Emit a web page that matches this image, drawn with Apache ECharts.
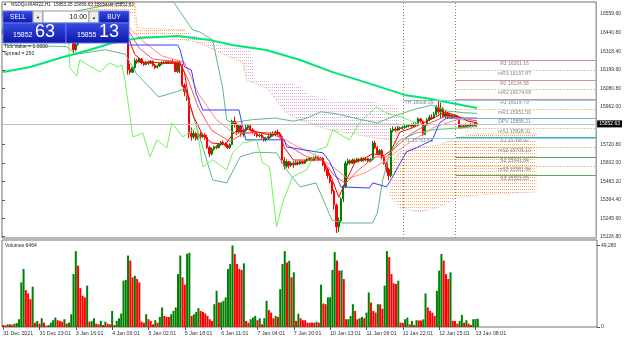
<!DOCTYPE html>
<html><head><meta charset="utf-8">
<script src="https://cdn.jsdelivr.net/npm/echarts/dist/echarts.min.js"></script>
<style>html,body{margin:0;padding:0;background:#fff}#c{width:624px;height:341px}</style>
</head><body><div id="c"></div>
<script>
// ---------- DATA ----------
const symbolTitle = 'NSDQo-MAR22,H1  15853.25 15856.63 15834.00 15852.63';
const dateLabels = ['31 Dec 2021','31 Dec 23:01','3 Jan 16:01','4 Jan 09:01','5 Jan 02:01','5 Jan 18:01','6 Jan 11:01','7 Jan 04:01','7 Jan 20:01','10 Jan 13:01','11 Jan 06:01','11 Jan 22:01','12 Jan 15:01','13 Jan 08:01'];
const dateStep = 16;
const priceTicks = [16559.6,16440.8,16318.4,16199.6,16080.8,15962.0,15720.8,15602.0,15483.2,15364.4,15245.6,15126.8];
const volTicks = [0,49280];
const lastPrice = 15852.63;
// candles: [open, close, low, high]
const ohlc = [
[16440,16455,16430,16462],[16455,16448,16440,16465],[16448,16460,16442,16470],[16460,16452,16445,16468],[16452,16465,16448,16475],
[16465,16470,16455,16482],[16470,16458,16450,16478],[16458,16440,16432,16462],[16440,16415,16405,16445],[16415,16430,16400,16440],
[16430,16395,16385,16445],[16395,16410,16388,16420],[16410,16400,16392,16418],[16400,16420,16395,16428],[16420,16408,16400,16425],
[16408,16415,16402,16420],[16415,16418,16410,16422],[16418,16425,16412,16430],[16425,16438,16420,16442],[16438,16445,16432,16450],
[16445,16452,16440,16458],[16452,16460,16448,16465],[16460,16458,16452,16466],[16458,16470,16455,16475],[16470,16475,16465,16480],
[16475,16468,16460,16480],[16468,16480,16465,16485],[16480,16472,16465,16486],[16472,16478,16468,16484],[16478,16440,16435,16482],
[16440,16395,16380,16445],[16395,16330,16296,16400],[16330,16365,16320,16372],[16365,16410,16355,16415],[16410,16440,16400,16448],
[16440,16470,16430,16478],[16470,16490,16460,16500],[16490,16505,16480,16512],[16505,16520,16495,16530],[16520,16512,16500,16528],
[16512,16530,16505,16540],[16530,16525,16515,16545],[16525,16540,16518,16550],[16540,16535,16525,16548],[16535,16545,16530,16555],
[16545,16538,16530,16552],[16538,16548,16532,16556],[16548,16540,16532,16555],[16540,16552,16535,16560],[16552,16545,16538,16562],
[16545,16530,16522,16552],[16530,16520,16510,16538],[16520,16500,16490,16528],[16500,16470,16460,16505],[16470,16420,16410,16478],
[16420,16200,16170,16430],[16205,16185,16170,16240],[16185,16215,16180,16225],[16215,16260,16205,16275],[16260,16250,16240,16272],
[16250,16270,16245,16282],[16270,16245,16235,16278],[16245,16235,16225,16255],[16235,16250,16228,16258],[16250,16242,16232,16260],
[16242,16255,16238,16262],[16255,16230,16222,16260],[16230,16215,16205,16238],[16215,16225,16208,16232],[16225,16240,16218,16248],
[16240,16248,16232,16255],[16248,16242,16235,16258],[16242,16252,16238,16260],[16252,16246,16238,16262],[16246,16255,16240,16262],
[16255,16248,16240,16268],[16248,16190,16185,16258],[16190,16250,16180,16258],[16250,16230,16180,16262],[16230,16100,16090,16240],
[16100,16060,16030,16115],[16060,16020,16000,16075],[16020,15790,15760,16030],[15790,15770,15745,15830],[15770,15790,15755,15810],
[15790,15760,15745,15800],[15760,15785,15750,15795],[15785,15770,15755,15800],[15770,15780,15760,15790],[15780,15765,15750,15792],
[15765,15700,15690,15782],[15700,15660,15640,15712],[15660,15690,15650,15700],[15690,15705,15680,15712],[15705,15700,15690,15715],
[15700,15720,15695,15728],[15720,15735,15712,15742],[15735,15725,15715,15745],[15725,15715,15705,15735],[15715,15700,15690,15722],
[15700,15720,15690,15728],[15720,15870,15715,15880],[15870,15850,15830,15900],[15850,15800,15780,15860],[15800,15840,15790,15852],
[15840,15790,15770,15848],[15790,15810,15770,15815],[15810,15830,15800,15845],[15830,15840,15815,15850],[15840,15815,15805,15848],
[15815,15800,15790,15825],[15800,15790,15775,15810],[15790,15775,15765,15798],[15775,15780,15765,15790],[15780,15765,15755,15790],
[15765,15750,15740,15772],[15750,15760,15740,15770],[15760,15770,15750,15780],[15770,15790,15760,15800],[15790,15780,15770,15805],
[15780,15800,15772,15810],[15800,15790,15770,15815],[15790,15770,15760,15800],[15770,15620,15600,15780],[15620,15580,15560,15640],
[15580,15610,15570,15625],[15610,15585,15565,15615],[15585,15600,15575,15610],[15600,15590,15570,15612],[15590,15605,15585,15615],
[15605,15595,15585,15612],[15595,15610,15590,15618],[15610,15600,15592,15615],[15600,15615,15595,15622],[15615,15625,15608,15632],
[15625,15630,15615,15640],[15630,15620,15610,15638],[15620,15635,15612,15642],[15635,15640,15625,15650],[15640,15628,15618,15648],
[15628,15632,15620,15640],[15632,15590,15580,15640],[15590,15560,15545,15598],[15560,15520,15500,15570],[15520,15480,15470,15530],
[15480,15420,15400,15490],[15420,15330,15300,15430],[15330,15190,15150,15340],[15190,15230,15155,15250],[15230,15370,15215,15380],
[15370,15450,15350,15460],[15450,15600,15440,15615],[15600,15615,15585,15630],[15615,15600,15590,15625],[15600,15620,15595,15630],
[15620,15610,15598,15628],[15610,15625,15602,15635],[15625,15615,15605,15632],[15615,15630,15608,15640],[15630,15620,15610,15636],
[15620,15628,15612,15638],[15628,15615,15605,15635],[15615,15625,15605,15632],[15625,15730,15618,15742],[15730,15700,15690,15745],
[15700,15660,15650,15712],[15660,15680,15650,15692],[15680,15640,15625,15690],[15640,15600,15590,15650],[15600,15560,15540,15610],
[15560,15520,15490,15570],[15520,15810,15510,15825],[15810,15820,15800,15835],[15820,15812,15802,15832],[15812,15828,15806,15838],
[15828,15822,15812,15835],[15822,15830,15815,15840],[15830,15835,15820,15845],[15835,15840,15828,15850],[15840,15845,15830,15852],
[15845,15838,15828,15855],[15838,15850,15832,15860],[15850,15855,15840,15865],[15855,15885,15848,15895],[15885,15870,15860,15892],
[15870,15785,15775,15875],[15785,15845,15780,15852],[15845,15880,15840,15890],[15880,15895,15870,15910],[15895,15890,15880,15915],
[15890,15915,15885,15930],[15915,15960,15905,15975],[15960,15930,15915,16008],[15930,15950,15890,15990],[15950,15900,15890,15960],
[15900,15920,15885,15935],[15920,15900,15885,15930],[15900,15910,15890,15922],[15910,15898,15885,15915],[15898,15905,15888,15912],
[15905,15890,15880,15910],[15890,15832,15825,15895],[15832,15840,15822,15850],[15840,15835,15825,15848],[15835,15845,15828,15855],
[15845,15838,15830,15852],[15838,15848,15832,15858],[15848,15842,15835,15856],[15842,15855,15838,15862],[15853.25,15852.63,15834.00,15856.63]
];
const volumes = [
1200,1000,1600,1600,1400,2000,2400,4700,27000,35100,
22300,20300,16800,24400,2600,3600,2000,5300,2600,800,
1200,2600,4100,5700,4100,3700,3200,4700,2000,2600,
7700,32000,45900,37100,23500,18900,17900,25000,3200,3700,
5300,2000,1600,3700,1200,3200,2000,1600,9700,1200,
3700,5300,8100,28000,28400,43200,40200,30000,31000,29000,
27000,3200,2600,7700,4700,3700,1600,4100,2600,6100,
11800,6700,6100,6100,7700,9700,11800,32000,43200,30000,
25600,44200,44900,6700,7700,9100,11400,9700,9100,8100,
6700,4700,3700,13800,21900,14800,14900,15800,17900,35100,
38100,49280,44200,38100,35100,34500,38500,3700,2600,4700,
5700,6700,4100,5300,1600,5300,15800,10200,8700,5300,
6700,6100,22900,38100,45900,39000,40000,30000,33100,3700,
8100,5300,4100,4100,2600,2600,2600,2600,3200,2600,
25600,14200,13800,17900,17950,34500,45300,40200,34100,34200,
29000,4700,4750,6700,13800,9700,4700,5300,6100,5300,
8700,20900,14800,9700,8700,13800,13700,11000,25000,45900,
42200,32000,26400,26000,28000,2600,2500,4700,5700,1600,
3700,1200,4100,4000,3900,4600,20300,11800,9700,8700,
6700,21900,34100,44200,40200,32000,29000,33100,3700,3600,
2000,3700,7300,2600,4100,2000,1200,4700,4800,5000
];
// indicator lines: [barIndex, price]
const ma200 = [[0,16187],[12,16219],[25,16277],[38,16328],[48,16373],[60,16405],[77,16418],[91,16393],[101,16360],[116,16328],[131,16264],[145,16187],[162,16110],[177,16039],[188,16014],[197,15988],[209,15955]];
const kijun = [[0,16450],[54,16450],[55,16360],[77,16360],[78,16330],[80,16219],[83,16200],[85,16052],[88,15942],[104,15942],[105,15878],[107,15750],[124,15750],[125,15704],[141,15666],[144,15610],[149,15447],[161.5,15440],[163,15473],[169,15447],[171,15492],[173.4,15556],[177.8,15672],[182.2,15698],[189.3,15749],[192.4,15858],[195.5,15890],[209,15890]];
const tenkan = [[0,16450],[30,16420],[33,16390],[40,16480],[50,16540],[55,16420],[58,16300],[62,16250],[78,16240],[80,16180],[82,16000],[84,15900],[88,15780],[92,15730],[98,15720],[102,15800],[108,15820],[112,15800],[118,15780],[122,15790],[124,15700],[128,15620],[135,15620],[141,15620],[145,15500],[148,15380],[151,15480],[155,15600],[163,15660],[168,15650],[171,15680],[175,15800],[181,15830],[187,15870],[191,15900],[195,15930],[201,15900],[205,15870],[209,15860]];
const redMa1 = [[0,16440],[30,16430],[40,16470],[50,16520],[55,16460],[60,16340],[66,16270],[78,16250],[82,16120],[86,15960],[92,15810],[100,15740],[106,15790],[112,15800],[120,15790],[126,15710],[134,15640],[141,15620],[146,15520],[151,15470],[157,15560],[164,15640],[169,15640],[173,15700],[179,15780],[187,15850],[195,15900],[203,15890],[209,15870]];
const redMa2 = [[0,16430],[40,16460],[55,16480],[62,16380],[70,16290],[80,16250],[86,16050],[94,15880],[102,15790],[110,15800],[120,15790],[128,15720],[138,15650],[146,15570],[152,15500],[160,15540],[168,15610],[174,15680],[182,15760],[190,15830],[200,15880],[209,15875]];
const bbUpper = [[0,16560],[20,16545],[40,16600],[55,16640],[62,16660],[75,16640],[83.6,16457],[86.7,16444],[92.4,16393],[96.8,16084],[98.6,15878],[101,15860],[110,15880],[120,15890],[128,15870],[134,15890],[140,15930],[146,15920],[152,15900],[158,15880],[165,15859],[172,15900],[180,15940],[189,15974],[196,15935],[203,15925],[209,15920]];
const bbLower = [[0,16360],[28,16350],[32,16300],[45,16330],[54,16300],[58.6,16180],[68.5,16026],[76.6,16060],[80,16080],[86,15800],[92.4,15492],[98.6,15473],[104.5,15640],[111,15670],[120.6,15666],[125,15556],[131,15447],[138,15473],[145,15234],[149.7,15215],[162.9,15215],[165,15280],[167.4,15492],[170.5,15665],[175,15749],[182.2,15794],[189.3,15814],[199.9,15826],[207,15833],[209,15835]];
const chikou = [[0,16460],[28.6,16470],[29.4,16213],[32.5,16161],[33.8,16264],[38.2,16225],[42.7,16187],[47,16245],[50.6,16219],[52.3,16232],[53.7,16135],[57.2,15769],[61.6,15794],[64.7,15640],[67.8,15749],[72.2,15698],[74.4,15859],[79.2,15769],[85.4,15833],[88,15576],[92.4,15621],[98.6,15556],[101.2,15666],[105.6,15730],[111.8,15749],[114.4,15601],[117.5,15576],[120.6,15189],[123.2,15344],[127.6,15511],[133.8,15556],[138.2,15685],[142.6,15704],[145.3,15814],[152.7,15749],[157.1,15859],[164.6,15962],[169,15923],[175,15900],[183,15853]];
// Ichimoku cloud edges (span A / span B)
const kumoUp1Top = [[38.2,16637],[58.1,16637],[59,16470],[80.1,16457]];
const kumoUp1Bot = [[38.2,16586],[47.1,16573],[57,16560],[59,16405],[80.1,16393]];
const kumoDnTop = [[80.1,16457],[86.7,16405],[101.2,16348],[109.6,16328],[110.9,16135],[130.7,16103],[135.1,16039],[143.9,16007],[157.1,16007],[172.5,15974],[174.8,15929]];
const kumoDnBot = [[80.1,16393],[86.7,16373],[105.6,16245],[107.4,16135],[116.2,16084],[125,15923],[130.7,15878],[143.9,15814],[157.1,15781],[170.3,15749],[174.8,15717]];
const kumoUp2Top = [[170.3,15588],[174.8,15672],[181.4,15698],[192.4,15717],[199.9,15762],[207.8,15788],[235.1,15788]];
const kumoUp2Bot = [[170.3,15395],[174.8,15312],[183.6,15286],[192.4,15318],[199.9,15376],[210,15395],[235.1,15415]];
// pivots
const pivotNames = ['R3','mR3','R2','mR2','R1','mR1','DPV','mS1','S1','mS2','S2','mS3','S3'];
const pivotValues = [16261.16,16197.87,16134.58,16074.68,16014.79,15951.50,15888.21,15828.31,15768.42,15705.13,15641.84,15581.94,15522.05];
const yesterdayNames = ['YH','YL'];
const yesterdayValues = [16008.09,15761.63];
const daySeparators = [177,200];

// ---------- STYLE / LAYOUT ----------
const NSLOT = 262;
const slots = Array.from({length:NSLOT},(_,k)=>k);
const FONT = 'Liberation Sans';
const pivotColors = {R:'#dc8c8c', m:'#a3a34a', DPV:'#7ea6ea', S1:'#3fb3a5', S:'#5ea85e'};
function pivColor(n){ if(n[0]==='m') return pivotColors.m; if(n==='DPV') return pivotColors.DPV; if(n==='S1') return pivotColors.S1; if(n[0]==='R') return pivotColors.R; return pivotColors.S; }
function dots(color,w,h){ const c=document.createElement('canvas'); c.width=w; c.height=h; const g=c.getContext('2d'); g.fillStyle=color; g.fillRect(0,0,1,1); return c; }
const toXY = arr => arr.map(p=>[p[0]+0.5,p[1]]);
function lineSeries(pts,color,width,extra){ return Object.assign({type:'line',xAxisIndex:1,yAxisIndex:0,data:toXY(pts),showSymbol:false,symbol:'none',silent:true,z:4,lineStyle:{color:color,width:width},clip:true}, extra||{}); }
function kumo(top,bot,color,pw,ph){
  return {type:'custom',xAxisIndex:1,yAxisIndex:0,z:1,silent:true,clip:true,data:[[top[0][0]+0.5,top[0][1]]],
    renderItem:function(params,api){
      const pts = top.map(p=>api.coord([p[0]+0.5,p[1]])).concat(bot.slice().reverse().map(p=>api.coord([p[0]+0.5,p[1]])));
      return {type:'polygon',shape:{points:pts},style:{fill:{image:dots(color,pw,ph),repeat:'repeat'},stroke:null}};
    }};
}
const dotLine = (pts,color)=>lineSeries(pts,color,1,{z:2,lineStyle:{color:color,width:1,type:[1,1.5]}});
const blueGrad = new echarts.graphic.LinearGradient(0,0,0,1,[{offset:0,color:'#3a4de4'},{offset:1,color:'#0b16a6'}]);

const chart = echarts.init(document.getElementById('c'));
const option = {
  animation:false, backgroundColor:'#ffffff',
  grid:[
    {left:2,top:2,width:595,height:236,show:true,borderColor:'#707070',borderWidth:1,backgroundColor:'rgba(0,0,0,0)'},
    {left:2,top:240,width:595,height:87,show:true,borderColor:'#707070',borderWidth:1,backgroundColor:'rgba(0,0,0,0)'}
  ],
  xAxis:[
    {type:'category',gridIndex:0,data:slots,boundaryGap:true,axisLine:{show:false},axisTick:{show:false},axisLabel:{show:false},splitLine:{show:false}},
    {type:'value',gridIndex:0,min:0,max:NSLOT,show:false},
    {type:'category',gridIndex:1,data:slots,boundaryGap:true,axisLine:{show:false},
      axisTick:{show:true,alignWithLabel:true,length:3,interval:(i)=>i%dateStep===0 && i/dateStep<dateLabels.length,lineStyle:{color:'#555'}},
      axisLabel:{show:true,interval:(i)=>i%dateStep===0 && i/dateStep<dateLabels.length,formatter:(v,i)=>dateLabels[i/dateStep]||'',align:'left',fontSize:5.3,fontFamily:FONT,color:'#333',margin:4},
      splitLine:{show:false}}
  ],
  yAxis:[
    {type:'value',gridIndex:0,position:'right',min:15118.4,max:16636.8,splitLine:{show:false},axisLine:{show:false},
      axisTick:{show:true,length:3,customValues:priceTicks,lineStyle:{color:'#555'}},
      axisLabel:{customValues:priceTicks,formatter:v=>v.toFixed(2),fontSize:5,fontFamily:FONT,color:'#333',margin:4}},
    {type:'value',gridIndex:1,position:'right',min:0,max:52600,splitLine:{show:false},axisLine:{show:false},
      axisTick:{show:true,length:3,customValues:volTicks,lineStyle:{color:'#555'}},
      axisLabel:{customValues:volTicks,fontSize:5,fontFamily:FONT,color:'#333',margin:4}}
  ],
  series:[
    kumo(kumoUp1Top,kumoUp1Bot,'#f4a460',2,3),
    kumo(kumoDnTop,kumoDnBot,'#d9a9d9',2,3),
    kumo(kumoUp2Top,kumoUp2Bot,'#f4a460',2,3),
    dotLine(kumoUp1Top,'#f4a460'),
    dotLine(kumoDnBot,'#f4a460'),
    dotLine(kumoUp2Top,'#f4a460'),
    dotLine(kumoUp2Bot,'#dcc0dc'),
    {type:'candlestick',xAxisIndex:0,yAxisIndex:0,data:ohlc,barWidth:1.8,z:3,silent:true,
      itemStyle:{color:'#008000',color0:'#ff0000',borderColor:'#008000',borderColor0:'#ff0000',borderWidth:1},
      markLine:{silent:true,symbol:'none',data:[{yAxis:lastPrice}],lineStyle:{color:'#c0c0c0',width:1,type:'solid'},
        label:{show:true,position:'end',distance:1,formatter:lastPrice.toFixed(2),backgroundColor:'#000',color:'#fff',fontSize:5,fontFamily:FONT,padding:[1,2]}}},
    lineSeries(bbUpper,'#5cb981',1),
    lineSeries(bbLower,'#5cb981',1),
    lineSeries(redMa2,'#ff8a8a',1),
    lineSeries(redMa1,'#ff5050',1),
    lineSeries(tenkan,'#ff0000',1),
    lineSeries(kijun,'#3a3aff',1),
    lineSeries(chikou,'#74f25e',1),
    lineSeries(ma200,'#00e676',2,{z:5}),
    {type:'line',xAxisIndex:1,yAxisIndex:0,data:[],silent:true,
      markLine:{silent:true,symbol:'none',label:{show:false},lineStyle:{color:'#8a8a3a',width:1,type:[1,2]},data:daySeparators.map(v=>({xAxis:v}))}},
    {type:'custom',xAxisIndex:1,yAxisIndex:0,z:6,silent:true,clip:false,
      data:pivotValues.map(v=>[daySeparators[1],v]),
      renderItem:function(params,api){
        const k=params.dataIndex, n=pivotNames[k], v=api.value(1);
        const p0=api.coord([api.value(0),v]), p1=api.coord([NSLOT,v]), pl=api.coord([226,v]);
        const dotted = n[0]==='m';
        return {type:'group',children:[
          {type:'line',shape:{x1:p0[0],y1:Math.round(p0[1])+0.5,x2:p1[0],y2:Math.round(p0[1])+0.5},style:{stroke:pivColor(n),lineWidth:1,lineDash:dotted?[1,2]:null}},
          {type:'text',style:{text:n+' '+v.toFixed(2),x:pl[0],y:p0[1]+1.2,align:'center',verticalAlign:'top',fill:'#858585',font:'5px '+FONT}}
        ]};
      }},
    {type:'custom',xAxisIndex:1,yAxisIndex:0,z:6,silent:true,clip:false,
      data:yesterdayValues.map(v=>[daySeparators[0],v]),
      renderItem:function(params,api){
        const k=params.dataIndex, v=api.value(1);
        const p0=api.coord([api.value(0),v]), p1=api.coord([NSLOT,v]);
        return {type:'group',children:[
          {type:'line',shape:{x1:p0[0],y1:Math.round(p0[1])+0.5,x2:p1[0],y2:Math.round(p0[1])+0.5},style:{stroke:'#8fd0ea',lineWidth:1}},
          {type:'text',style:{text:yesterdayNames[k]+' '+v.toFixed(2),x:p0[0]+1,y:p0[1]+0.5,align:'left',verticalAlign:'top',fill:'#858585',font:'5px '+FONT}}
        ]};
      }},
    {type:'bar',xAxisIndex:2,yAxisIndex:1,barWidth:2,silent:true,
      data:volumes.map((v,i)=>({value:v,itemStyle:{color:(i>0 && v>volumes[i-1])?'#008000':'#ff0000'}}))}
  ],
  graphic:[
    {type:'text',z:100,style:{text:'▲',x:3,y:2,font:'4px '+FONT,fill:'#222'}},
    {type:'text',z:100,style:{text:symbolTitle,x:11,y:2,font:'4.6px '+FONT,fill:'#222'}},
    {type:'rect',z:100,shape:{x:3,y:11,width:30,height:12},style:{fill:blueGrad,stroke:'#6070f0',lineWidth:1}},
    {type:'text',z:101,style:{text:'SELL',x:18,y:17.5,align:'center',verticalAlign:'middle',font:'6.5px '+FONT,fill:'#fff'}},
    {type:'rect',z:100,shape:{x:33,y:11,width:10,height:12},style:{fill:'#ececec',stroke:'#9a9a9a',lineWidth:1}},
    {type:'text',z:101,style:{text:'▼',x:38,y:17.5,align:'center',verticalAlign:'middle',font:'4px '+FONT,fill:'#111'}},
    {type:'rect',z:100,shape:{x:43,y:11,width:46,height:12},style:{fill:'#fff',stroke:'#9a9a9a',lineWidth:1}},
    {type:'text',z:101,style:{text:'10.00',x:87,y:17.5,align:'right',verticalAlign:'middle',font:'7px '+FONT,fill:'#111'}},
    {type:'rect',z:100,shape:{x:89,y:11,width:10,height:12},style:{fill:'#ececec',stroke:'#9a9a9a',lineWidth:1}},
    {type:'text',z:101,style:{text:'▲',x:94,y:17.5,align:'center',verticalAlign:'middle',font:'4px '+FONT,fill:'#111'}},
    {type:'rect',z:100,shape:{x:99,y:11,width:30,height:12},style:{fill:blueGrad,stroke:'#6070f0',lineWidth:1}},
    {type:'text',z:101,style:{text:'BUY',x:114,y:17.5,align:'center',verticalAlign:'middle',font:'6.5px '+FONT,fill:'#fff'}},
    {type:'rect',z:100,shape:{x:3,y:23,width:63,height:20},style:{fill:blueGrad,stroke:'#6070f0',lineWidth:1}},
    {type:'rect',z:100,shape:{x:66,y:23,width:63,height:20},style:{fill:blueGrad,stroke:'#6070f0',lineWidth:1}},
    {type:'text',z:101,style:{text:'15852',x:13,y:39,verticalAlign:'bottom',font:'7px '+FONT,fill:'#fff'}},
    {type:'text',z:101,style:{text:'63',x:35,y:41,verticalAlign:'bottom',font:'18px '+FONT,fill:'#fff'}},
    {type:'text',z:101,style:{text:'15855',x:77,y:39,verticalAlign:'bottom',font:'7px '+FONT,fill:'#fff'}},
    {type:'text',z:101,style:{text:'13',x:99,y:41,verticalAlign:'bottom',font:'18px '+FONT,fill:'#fff'}},
    {type:'text',z:100,style:{text:'Tick Value = 1.0000',x:4,y:44,font:'5px '+FONT,fill:'#222'}},
    {type:'text',z:100,style:{text:'Spread = 250',x:4,y:51.5,font:'5px '+FONT,fill:'#222'}},
    {type:'text',z:100,style:{text:'Volumes 6464',x:5,y:243,font:'5px '+FONT,fill:'#222'}}
  ]
};
chart.setOption(option);
</script></body></html>
